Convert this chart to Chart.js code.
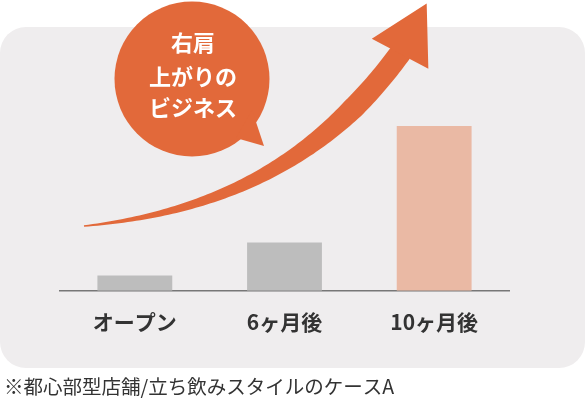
<!DOCTYPE html>
<html lang="ja">
<head>
<meta charset="UTF-8">
<title>右肩上がりのビジネス</title>
<script src="https://cdn.jsdelivr.net/npm/chart.js"></script>
<style>
  body { margin: 0; background: #fff; }
  canvas { display: block; }
</style>
</head>
<body>
<canvas id="chart" width="585" height="405"></canvas>
<script>
const categories = ['オープン', '6ヶ月後', '10ヶ月後'];
const sales = [0.7, 2.2, 7.5];
const barColors = ['#BDBDBD', '#BDBDBD', '#EAB9A4'];
const bubbleLines = ['右肩', '上がりの', 'ビジネス'];
const footnote = '※都心部型店舗/立ち飲みスタイルのケースA';

const FONT = '"Noto Sans CJK JP", "Noto Sans", sans-serif';
const ORANGE = '#E2693A';

// background panel, arrow, speech bubble and footnote
const decor = {
  id: 'decor',
  beforeDraw(chart) {
    const c = chart.ctx;
    c.save();
    c.fillStyle = '#EFEDEE';
    c.beginPath();
    c.roundRect(0, 27, 585, 341, 26);
    c.fill();
    c.restore();
  },
  afterDraw(chart) {
    const c = chart.ctx;
    c.save();

    // curved arrow shaft
    const p0 = [84, 226], p1 = [234, 211], p2 = [331, 149], p3 = [401, 52];
    const bez = (t, i) => {
      const u = 1 - t;
      return u*u*u*p0[i] + 3*u*u*t*p1[i] + 3*u*t*t*p2[i] + t*t*t*p3[i];
    };
    const der = (t, i) => {
      const u = 1 - t;
      return 3*u*u*(p1[i]-p0[i]) + 6*u*t*(p2[i]-p1[i]) + 3*t*t*(p3[i]-p2[i]);
    };
    const left = [], right = [];
    for (let k = 0; k <= 100; k++) {
      const t = k / 100;
      const x = bez(t, 0), y = bez(t, 1);
      const dx = der(t, 0), dy = der(t, 1);
      const len = Math.hypot(dx, dy);
      const nx = -dy / len, ny = dx / len;
      const w = Math.min(22, 1.5 + 26 * t) / 2;
      left.push([x + nx * w, y + ny * w]);
      right.push([x - nx * w, y - ny * w]);
    }
    c.fillStyle = ORANGE;
    c.beginPath();
    left.forEach((p, i) => i ? c.lineTo(p[0], p[1]) : c.moveTo(p[0], p[1]));
    right.reverse().forEach(p => c.lineTo(p[0], p[1]));
    c.closePath();
    c.fill();

    // arrow head
    const d = [0.467, -0.884], n = [-d[1], d[0]];
    const e = [p3[0] - d[0] * 2, p3[1] - d[1] * 2];
    c.beginPath();
    c.moveTo(e[0] + d[0] * 57, e[1] + d[1] * 57);
    c.lineTo(e[0] + n[0] * 32, e[1] + n[1] * 32);
    c.lineTo(e[0] + n[0] * 10, e[1] + n[1] * 10);
    c.lineTo(e[0] - n[0] * 10, e[1] - n[1] * 10);
    c.lineTo(e[0] - n[0] * 32, e[1] - n[1] * 32);
    c.closePath();
    c.fill();

    // speech bubble
    c.beginPath();
    c.arc(192, 79, 77.5, 0, Math.PI * 2);
    c.fill();
    c.beginPath();
    c.moveTo(252, 110);
    c.lineTo(264, 146);
    c.lineTo(236, 138);
    c.closePath();
    c.fill();

    c.fillStyle = '#fff';
    c.font = 'bold 22px ' + FONT;
    c.textAlign = 'center';
    c.textBaseline = 'middle';
    const ys = [43, 77, 108];
    bubbleLines.forEach((s, i) => c.fillText(s, 193, ys[i]));

    // footnote
    c.fillStyle = '#333';
    c.font = '19.5px ' + FONT;
    c.textAlign = 'left';
    c.fillText(footnote, 4, 387);
    c.restore();
  }
};

new Chart(document.getElementById('chart'), {
  type: 'bar',
  data: {
    labels: categories,
    datasets: [{
      data: sales,
      backgroundColor: barColors,
      borderWidth: 0,
      categoryPercentage: 1,
      barPercentage: 0.5
    }]
  },
  options: {
    responsive: false,
    animation: false,
    layout: { padding: { left: 60, right: 76, top: 71, bottom: 51 } },
    plugins: { legend: { display: false }, tooltip: { enabled: false } },
    scales: {
      x: {
        grid: { display: false, drawTicks: false },
        border: { display: true, color: '#777', width: 1.5 },
        ticks: {
          color: '#333',
          padding: 19,
          font: { family: FONT, size: 21, weight: 'bold' }
        }
      },
      y: { display: false, min: 0, max: 10 }
    }
  },
  plugins: [decor]
});
</script>
</body>
</html>
